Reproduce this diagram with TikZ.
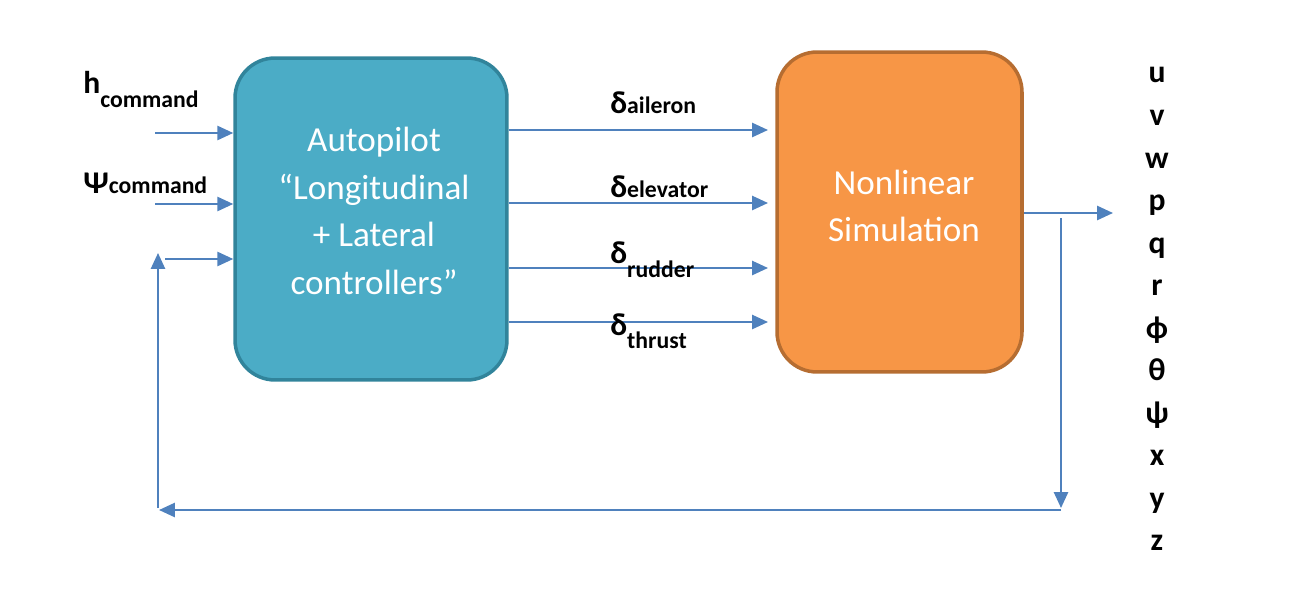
\documentclass[tikz,border=0pt]{standalone}
\usepackage{fontspec}
\setmainfont{Carlito}
\usetikzlibrary{arrows.meta}

\definecolor{apblue}{HTML}{4BACC6}
\definecolor{apedge}{HTML}{31849B}
\definecolor{simorange}{HTML}{F79646}
\definecolor{simedge}{HTML}{B66D31}
\definecolor{wire}{HTML}{4F81BD}

\newcommand{\sigsub}[1]{{\fontsize{13.5}{15}\selectfont #1}}

\begin{document}
\begin{tikzpicture}[
    x=0.02cm, y=-0.02cm,
    block/.style={rounded corners=0.8cm, line width=2pt},
    blocktext/.style={font=\fontsize{20}{27}\selectfont, text=white,
        align=center, inner sep=0pt},
    sig/.style={inner sep=0pt, anchor=base west,
        font=\bfseries\fontsize{18}{20}\selectfont},
    state/.style={inner sep=0pt, anchor=base,
        font=\bfseries\fontsize{18}{20}\selectfont},
    flow/.style={draw=wire, line width=1.2pt,
        -{Triangle[length=9pt,width=8pt]}}
]
    \useasboundingbox (0,0) rectangle (1300,598);

    % blocks
    \node[block, draw=apedge, fill=apblue, minimum width=5.44cm,
        minimum height=6.44cm] (auto) at (371,219) {};
    \node[block, draw=simedge, fill=simorange, minimum width=4.9cm,
        minimum height=6.4cm] (sim) at (899.5,212) {};
    \node[blocktext] (autotext) at (374,211)
        {Autopilot\\``Longitudinal\\+ Lateral\\controllers''};
    \node[blocktext] (simtext) at (904,206) {Nonlinear\\Simulation};

    % inputs
    \coordinate (hin) at (155,133);
    \coordinate (psiin) at (155,204);
    \coordinate (fbin) at (165,259);
    \draw[flow] (hin) -- (hin -| auto.west);
    \draw[flow] (psiin) -- (psiin -| auto.west);
    \draw[flow] (fbin) -- (fbin -| auto.west);
    \node[sig] (hcmd) at (83,93) {h\raisebox{-8pt}{\sigsub{command}}};
    \node[sig] (psicmd) at (83,193) {Ψ\sigsub{command}};

    % control surfaces
    \foreach \name/\y in {ail/130, elev/203, rud/268, thr/322} {
        \coordinate (\name) at (768,\y);
        \draw[flow] (\name -| auto.east) -- (\name);
    }
    \node[sig] (dail) at (610,113) {δ\sigsub{aileron}};
    \node[sig] (delev) at (610,197) {δ\sigsub{elevator}};
    \node[sig] (drud) at (610,263) {δ\raisebox{-8.5pt}{\sigsub{rudder}}};
    \node[sig] (dthr) at (610,335) {δ\raisebox{-7.5pt}{\sigsub{thrust}}};

    % output and feedback
    \coordinate (out) at (1113,213);
    \coordinate (fbtop) at (1061,218);
    \coordinate (fbcorner) at (1061,508);
    \coordinate (fbright) at (1061,510);
    \coordinate (fbleft) at (159,510);
    \coordinate (fbbottom) at (158,508);
    \coordinate (fbup) at (158,253);
    \draw[flow] (out -| sim.east) -- (out);
    \draw[flow] (fbtop) -- (fbcorner);
    \draw[flow] (fbright) -- (fbleft);
    \draw[flow] (fbbottom) -- (fbup);

    % states
    \foreach \s [count=\i from 0] in {u,v,w,p,q,r,ϕ,θ,ψ,x,y,z}
        \node[state] (st\i) at (1157,83+42.5*\i) {\s};
\end{tikzpicture}
\end{document}
